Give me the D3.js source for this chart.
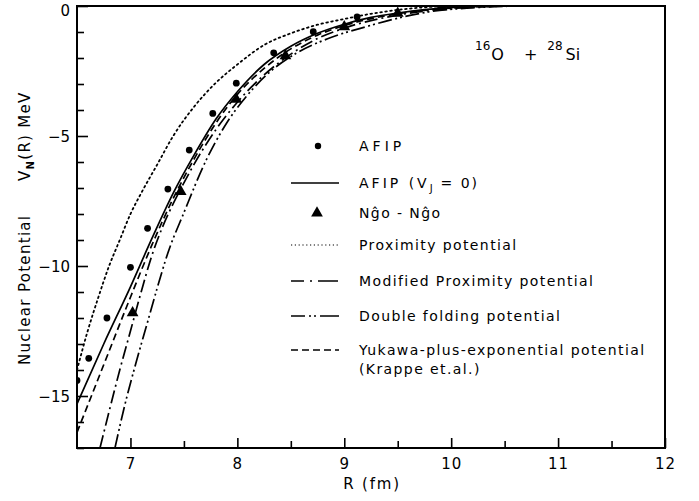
<!DOCTYPE html>
<html>
<head>
<meta charset="utf-8">
<script src="https://cdn.jsdelivr.net/npm/d3@7"></script>
<style>
  html, body { margin: 0; padding: 0; background: #fff; }
  svg { display: block; }
  text { font-family: "DejaVu Sans", "Liberation Sans", sans-serif; fill: #000; }
</style>
</head>
<body>
<svg id="chart" width="699" height="501"></svg>
<script>
// ---- data: R in fm, V_N(R) in MeV ----
const xTicks = [7, 7.5, 8, 8.5, 9, 9.5, 10, 10.5, 11, 11.5, 12];
const xTickLabels = ["7", "8", "9", "10", "11", "12"];
const yTicks = d3.range(0, -18, -1);
const yTickLabels = ["0", "−5", "−10", "−15"];

// AFIP (filled circles)
const afipR = [6.5, 6.61, 6.78, 7.0, 7.16, 7.35, 7.55, 7.77, 7.99, 8.34, 8.71, 9.12];
const afipV = [-14.4, -13.55, -12.0, -10.05, -8.55, -7.04, -5.54, -4.13, -2.97, -1.8, -0.99, -0.42];

// Ngô – Ngô (filled triangles)
const ngoR = [7.02, 7.47, 7.99, 8.45, 9.0, 9.5, 9.91];
const ngoV = [-11.8, -7.14, -3.59, -1.92, -0.8, -0.28, -0.03];

// AFIP (V_J = 0), solid
const afipJ0R = [6.5, 6.75, 7.0, 7.2, 7.4, 7.6, 7.8, 8.0, 8.25, 8.5, 8.75, 9.0, 9.25, 9.5, 9.75, 10.0, 10.5];
const afipJ0V = [-15.3, -13.0, -10.8, -8.95, -7.2, -5.7, -4.35, -3.3, -2.25, -1.55, -1.05, -0.7, -0.44, -0.27, -0.14, -0.06, 0];

// Proximity potential, dotted
const proxR = [6.5, 6.6, 6.7, 6.8, 6.9, 7.0, 7.1, 7.25, 7.4, 7.6, 7.8, 8.0, 8.25, 8.5, 8.75, 9.0, 9.25, 9.5, 9.75, 10.0];
const proxV = [-14.0, -12.5, -11.2, -10.0, -9.0, -8.0, -7.2, -6.1, -5.0, -3.85, -2.95, -2.25, -1.5, -1.05, -0.72, -0.5, -0.3, -0.15, -0.05, 0];

// Modified proximity potential, dash-dot
const modProxR = [6.715, 6.8, 6.9, 7.0, 7.1, 7.2, 7.3, 7.4, 7.5, 7.6, 7.8, 8.0, 8.25, 8.5, 8.75, 9.0, 9.5, 10.0, 10.5];
const modProxV = [-17.0, -15.6, -14.0, -12.5, -11.0, -9.6, -8.5, -7.6, -6.8, -6.05, -4.75, -3.7, -2.65, -1.85, -1.25, -0.85, -0.35, -0.1, 0];

// Double folding potential, dash-dot-dot
const foldR = [6.855, 6.95, 7.05, 7.15, 7.25, 7.35, 7.5, 7.7, 7.9, 8.1, 8.3, 8.55, 8.85, 9.2, 9.5, 9.8, 10.2, 10.6];
const foldV = [-17.0, -15.3, -13.75, -12.3, -10.85, -9.5, -7.95, -6.0, -4.5, -3.4, -2.55, -1.82, -1.25, -0.8, -0.47, -0.22, -0.07, 0];

// Yukawa-plus-exponential potential (Krappe et al.), dashed
const yukawaR = [6.5, 6.75, 7.0, 7.2, 7.4, 7.6, 7.8, 8.0, 8.25, 8.5, 8.75, 9.0, 9.5, 10.0, 10.5];
const yukawaV = [-16.4, -13.8, -11.2, -9.2, -7.4, -5.85, -4.5, -3.4, -2.4, -1.65, -1.12, -0.75, -0.3, -0.08, 0];

const legendLabels = [
  "AFIP", "AFIP (V_J = 0)", "Nĝo - Nĝo", "Proximity potential",
  "Modified Proximity potential", "Double folding potential",
  "Yukawa-plus-exponential potential", "(Krappe et.al.)"
];

// ---- layout ----
const svg = d3.select("#chart");
const plotL = 77, plotR = 665, plotT = 6, plotB = 448;
const x = d3.scaleLinear().domain([6.5, 12]).range([plotL, plotR]);
const y = d3.scaleLinear().domain([-17, 0]).range([plotB, plotT]);

svg.append("defs").append("clipPath").attr("id", "plot")
  .append("rect").attr("x", plotL).attr("y", plotT).attr("width", plotR - plotL).attr("height", plotB - plotT);

const zip = (rs, vs) => rs.map((r, i) => [r, vs[i]]);
const line = d3.line().x(d => x(d[0])).y(d => y(d[1])).curve(d3.curveMonotoneX);

const styles = {
  solid:  { dash: null, w: 1.7 },
  dotted: { dash: "1.6 3.4", w: 1.8 },
  dashdot: { dash: "13 4 2 4", w: 1.7 },
  dashdotdot: { dash: "14 3.5 2 3 2 3.5", w: 1.7 },
  dashed: { dash: "7 4", w: 1.7 }
};

const curves = [
  { pts: zip(proxR, proxV), s: styles.dotted },
  { pts: zip(modProxR, modProxV), s: styles.dashdot },
  { pts: zip(foldR, foldV), s: styles.dashdotdot },
  { pts: zip(yukawaR, yukawaV), s: styles.dashed },
  { pts: zip(afipJ0R, afipJ0V), s: styles.solid }
];

const plot = svg.append("g").attr("clip-path", "url(#plot)");
curves.forEach(c => {
  plot.append("path").attr("d", line(c.pts))
    .attr("fill", "none").attr("stroke", "#000")
    .attr("stroke-width", c.s.w)
    .attr("stroke-dasharray", c.s.dash)
    .attr("stroke-linecap", c.s === styles.dotted ? "round" : "butt");
});

// markers
const tri = d3.symbol().type(d3.symbolTriangle).size(60);
plot.selectAll("circle.afip").data(zip(afipR, afipV)).join("circle")
  .attr("cx", d => x(d[0])).attr("cy", d => y(d[1])).attr("r", 3.4).attr("fill", "#000");
plot.selectAll("path.ngo").data(zip(ngoR, ngoV)).join("path")
  .attr("d", tri).attr("transform", d => `translate(${x(d[0])},${y(d[1])})`).attr("fill", "#000");

// ---- axes ----
const xAxis = d3.axisBottom(x).tickValues(xTicks).tickSizeOuter(0).tickSizeInner(0).tickFormat("");
const gx = svg.append("g").attr("transform", `translate(0,${plotB})`).call(xAxis);
gx.select(".domain").remove();
gx.selectAll(".tick line").remove();
gx.selectAll(".tick").append("line")
  .attr("y1", 0).attr("y2", d => Number.isInteger(d) ? -10 : -7)
  .attr("stroke", "#000").attr("stroke-width", 1.6);
gx.selectAll(".tick").filter(d => Number.isInteger(d) && xTickLabels.includes(String(d)))
  .append("text").attr("y", 21).attr("text-anchor", "middle")
  .attr("font-size", 15).attr("letter-spacing", 1)
  .text(d => xTickLabels[xTickLabels.indexOf(String(d))]);

const yAxis = d3.axisLeft(y).tickValues(yTicks).tickSizeOuter(0).tickSizeInner(0).tickFormat("");
const gy = svg.append("g").attr("transform", `translate(${plotL},0)`).call(yAxis);
gy.select(".domain").remove();
gy.selectAll(".tick line").remove();
gy.selectAll(".tick").append("line")
  .attr("x1", 0).attr("x2", d => d % 5 === 0 ? 11 : 7)
  .attr("stroke", "#000").attr("stroke-width", 1.6);
gy.selectAll(".tick").filter(d => d % 5 === 0)
  .append("text").attr("x", -7).attr("dy", d => d === 0 ? "0.6em" : "0.35em")
  .attr("text-anchor", "end").attr("font-size", 15)
  .text(d => yTickLabels[-d / 5]);

// frame
svg.append("rect").attr("x", plotL).attr("y", plotT).attr("width", plotR - plotL).attr("height", plotB - plotT)
  .attr("fill", "none").attr("stroke", "#000").attr("stroke-width", 2);

// axis titles
svg.append("text").attr("x", 372).attr("y", 489).attr("text-anchor", "middle")
  .attr("font-size", 15).attr("letter-spacing", 1.8).text("R (fm)");

svg.append("text").attr("transform", "translate(30,365) rotate(-90)")
  .attr("font-size", 15).attr("letter-spacing", 1.3).text("Nuclear Potential");
const yt = svg.append("text").attr("transform", "translate(30,181) rotate(-90)")
  .attr("font-size", 15).attr("letter-spacing", 1.3);
yt.append("tspan").text("V");
yt.append("tspan").attr("font-size", 10).attr("dy", 4).attr("font-weight", "bold").text("N");
yt.append("tspan").attr("dy", -4).text("(R) MeV");

// reaction label
const rx = svg.append("text").attr("x", 475).attr("y", 60).attr("font-size", 16);
rx.append("tspan").attr("font-size", 12).attr("dy", -10).text("16");
rx.append("tspan").attr("dy", 10).attr("dx", 1).text("O");
rx.append("tspan").attr("dx", 20).text("+");
rx.append("tspan").attr("font-size", 12).attr("dy", -10).attr("dx", 10).text("28");
rx.append("tspan").attr("dy", 10).attr("dx", 3).text("Si");

// ---- legend ----
const lg = svg.append("g");
const rowY = [146, 183, 213, 245, 281, 316, 350, 369];
const sx0 = 291, sx1 = 339, tx = 359;

lg.append("circle").attr("cx", 318).attr("cy", rowY[0]).attr("r", 3.2).attr("fill", "#000");
const legendLine = (yy, s) => lg.append("line").attr("x1", sx0).attr("x2", sx1).attr("y1", yy).attr("y2", yy)
  .attr("stroke", "#000").attr("stroke-width", s.w).attr("stroke-dasharray", s.dash);
legendLine(rowY[1], styles.solid);
lg.append("path").attr("d", tri).attr("transform", `translate(317,${rowY[2]})`).attr("fill", "#000");
legendLine(rowY[3], { dash: "1.2 2.6", w: 1.2 });
legendLine(rowY[4], { dash: "13 6 2 6 20", w: 1.6 });
legendLine(rowY[5], { dash: "14 4 2 3 2 4 20", w: 1.6 });
legendLine(rowY[6], styles.dashed);

const ltext = (i) => lg.append("text").attr("x", tx).attr("y", rowY[i] + 5).attr("font-size", 14).attr("letter-spacing", 1.4);
ltext(0).attr("letter-spacing", 4).text(legendLabels[0]);
const t1 = ltext(1);
const parts = legendLabels[1].split("V_J");
t1.append("tspan").attr("letter-spacing", 3).text(parts[0] + "V");
t1.append("tspan").attr("font-size", 10).attr("dy", 4).text("J");
t1.append("tspan").attr("dy", -4).attr("letter-spacing", 2).text(parts[1]);
for (let i = 2; i < legendLabels.length; i++) ltext(i).text(legendLabels[i]);
</script>
</body>
</html>
